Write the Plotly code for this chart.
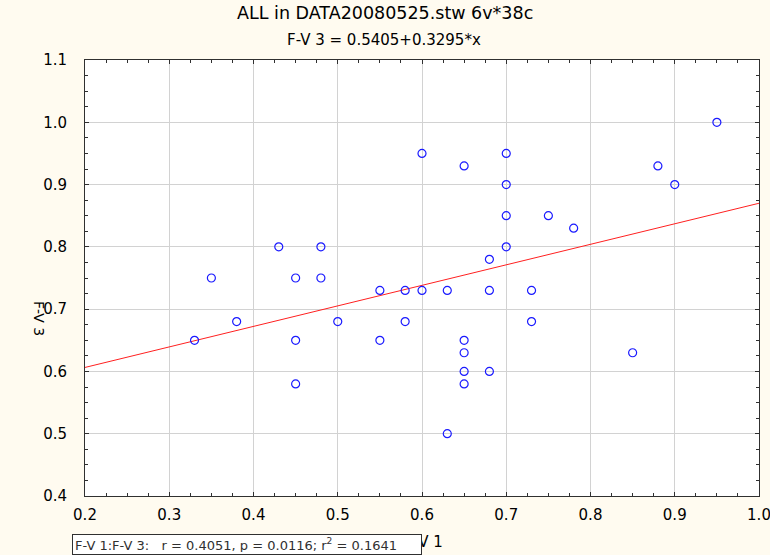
import plotly.graph_objects as go

# Scatter data: F-V 1 (x) vs F-V 3 (y), 38 cases
fv1 = [0.33, 0.35, 0.38, 0.43, 0.45, 0.45, 0.45, 0.48, 0.48, 0.50,
       0.55, 0.55, 0.58, 0.58, 0.60, 0.60, 0.63, 0.63, 0.65, 0.65,
       0.65, 0.65, 0.65, 0.68, 0.68, 0.68, 0.70, 0.70, 0.70, 0.70,
       0.73, 0.73, 0.75, 0.78, 0.85, 0.88, 0.90, 0.95]
fv3 = [0.65, 0.75, 0.68, 0.80, 0.75, 0.65, 0.58, 0.80, 0.75, 0.68,
       0.73, 0.65, 0.73, 0.68, 0.95, 0.73, 0.73, 0.50, 0.93, 0.65,
       0.63, 0.60, 0.58, 0.78, 0.73, 0.60, 0.95, 0.90, 0.85, 0.80,
       0.73, 0.68, 0.85, 0.83, 0.63, 0.93, 0.90, 1.00]

# Regression line F-V 3 = a + b*x
intercept = 0.5405
slope = 0.3295
fit_x = [0.2, 1.0]
fit_y = [intercept + slope * v for v in fit_x]

title_lines = ["ALL in DATA20080525.stw 6v*38c", "F-V 3 = 0.5405+0.3295*x"]
stats_text = ("F-V 1:F-V 3:&nbsp;&nbsp;&nbsp;r = 0.4051, p = 0.0116; "
              "r<sup>2</sup> = 0.1641")

W, H = 770, 555
ML, MR, MT, MB = 85, 11, 60, 59
PW, PH = W - ML - MR, H - MT - MB


def px(xp):
    return (xp - ML) / PW


def py(yp):
    return (H - MB - yp) / PH


FONT = "DejaVu Sans, Verdana, sans-serif"

fig = go.Figure()
fig.add_trace(go.Scatter(
    x=fit_x, y=fit_y, mode="lines",
    line=dict(color="#ff2020", width=1), hoverinfo="skip", showlegend=False))
fig.add_trace(go.Scatter(
    x=fv1, y=fv3, mode="markers",
    marker=dict(symbol="circle-open", size=8, color="#1a1aff",
                line=dict(width=1.2, color="#1a1aff")),
    showlegend=False))

axis_common = dict(
    showline=True, linecolor="#303030", linewidth=1, mirror="allticks",
    ticks="inside", ticklen=4, tickcolor="#303030", tickwidth=1,
    showgrid=True, gridcolor="#d2d2d2", gridwidth=1.4,
    zeroline=False, automargin=False, ticklabeloverflow="allow",
    tickfont=dict(family=FONT, size=15, color="#000000"),
)
minor_ticks = dict(ticks="inside", dtick=0.025, ticklen=3,
                   tickcolor="#303030", showgrid=False)

fig.update_xaxes(range=[0.2, 1.0], dtick=0.1, tickformat=".1f",
                 minor=minor_ticks, ticklabelstandoff=5, **axis_common)
fig.update_yaxes(range=[0.4, 1.1], dtick=0.1, tickformat=".1f",
                 minor=minor_ticks, ticklabelstandoff=14, **axis_common)


def label(text, x, y, size, **kw):
    return dict(text=text, x=px(x), y=py(y), xref="paper", yref="paper",
                xanchor=kw.pop("xanchor", "center"), yanchor="middle",
                showarrow=False,
                font=dict(family=FONT, size=size,
                          color=kw.pop("color", "#000000")), **kw)


annotations = [
    label(title_lines[0], 385, 13, 17.5),
    label(title_lines[1], 384, 40, 15),
    label("F-V 3", 39, 318, 14, textangle=90),
    label("F-V 1", 424, 542, 15),
    label(stats_text, 72, 544, 13, xanchor="left", align="left",
          width=344, height=15, bgcolor="#ffffff", bordercolor="#303030",
          borderwidth=1, borderpad=2, color="#303030"),
]

fig.update_layout(
    width=W, height=H,
    margin=dict(l=ML, r=MR, t=MT, b=MB, autoexpand=False),
    paper_bgcolor="#fffbf0", plot_bgcolor="#ffffff",
    annotations=annotations,
)

fig.write_html("out.html")
